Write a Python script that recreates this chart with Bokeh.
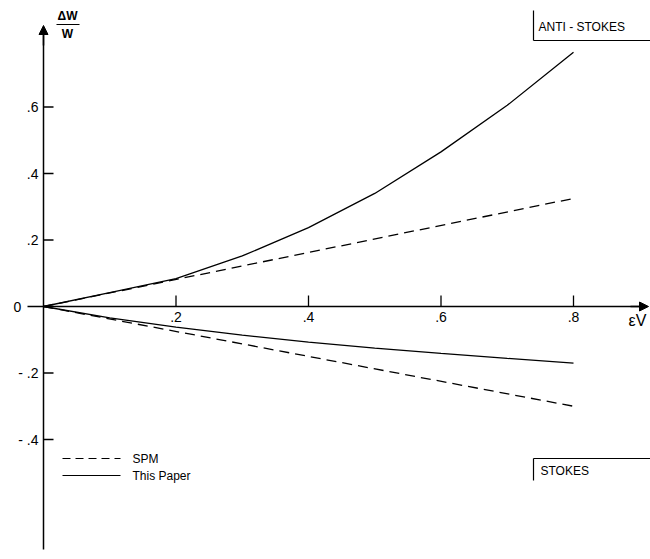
from bokeh.plotting import figure
from bokeh.models import Range1d, Arrow, NormalHead
from bokeh.core.properties import value
from bokeh.embed import file_html
from bokeh.resources import INLINE

# ---- data ----
x_tick_values = [0.2, 0.4, 0.6, 0.8]
x_tick_labels = [".2", ".4", ".6", ".8"]
y_tick_values = [0.6, 0.4, 0.2, -0.2, -0.4]
y_tick_labels = [".6", ".4", ".2", "- .2", "- .4"]

ev = [0.0, 0.1, 0.2, 0.3, 0.4, 0.5, 0.6, 0.7, 0.8]
anti_this_paper = [0.0, 0.042, 0.084, 0.152, 0.237, 0.340, 0.465, 0.605, 0.765]
stokes_this_paper = [0.0, -0.034, -0.062, -0.086, -0.107, -0.125, -0.141, -0.156, -0.170]

ev_spm = [0.0, 0.8]
anti_spm = [0.0, 0.325]
stokes_spm = [0.0, -0.300]

FONT = value("Liberation Sans")

W, H = 650, 559
# picture-pixel helpers for decorations
def X(px):
    return (px - 43) / 662.5

def Y(py):
    return (306 - py) / 332.5

p = figure(width=W, height=H, output_backend="svg", toolbar_location=None,
           x_range=Range1d(X(0), X(W)), y_range=Range1d(Y(H), Y(0)),
           x_axis_type=None, y_axis_type=None, min_border=0)
p.outline_line_color = None
p.grid.grid_line_color = None
p.background_fill_color = "white"

# axes
p.segment(x0=[X(27)], y0=[0], x1=[X(640)], y1=[0], line_color="black", line_width=1.3)
p.segment(x0=[0], y0=[Y(549)], x1=[0], y1=[Y(30)], line_color="black", line_width=1.5)
p.add_layout(Arrow(end=NormalHead(size=9, fill_color="black", line_color="black"),
                   x_start=X(630), y_start=0, x_end=X(648), y_end=0, line_width=1.3))
p.add_layout(Arrow(end=NormalHead(size=9, fill_color="black", line_color="black"),
                   x_start=0, y_start=Y(45), x_end=0, y_end=Y(25), line_width=1.5))

# ticks
p.segment(x0=x_tick_values, y0=[0] * 4, x1=x_tick_values, y1=[Y(295)] * 4,
          line_color="black", line_width=1.3)
p.segment(x0=[0] * 5, y0=y_tick_values, x1=[X(53)] * 5, y1=y_tick_values,
          line_color="black", line_width=1.3)

p.text(x=x_tick_values, y=[Y(316)] * 4, text=x_tick_labels, text_align="center",
       text_baseline="middle", text_font=FONT, text_font_size="14px", text_color="black")
p.text(x=[X(38)] * 5, y=y_tick_values, text=y_tick_labels, text_align="right",
       text_baseline="middle", text_font=FONT, text_font_size="14px", text_color="black")
p.text(x=[X(17)], y=[0], text=["0"], text_align="center", text_baseline="middle",
       text_font=FONT, text_font_size="14px", text_color="black")

# axis titles
p.text(x=[X(637)], y=[Y(320)], text=["εV"], text_align="center", text_baseline="middle",
       text_font=FONT, text_font_size="16px", text_color="black")
p.text(x=[X(67)], y=[Y(15)], text=["ΔW"], text_align="center", text_baseline="middle",
       text_font=FONT, text_font_size="12px", text_font_style="bold", text_color="black")
p.segment(x0=[X(56)], y0=[Y(24)], x1=[X(79)], y1=[Y(24)], line_color="black", line_width=1.2)
p.text(x=[X(67)], y=[Y(33)], text=["W"], text_align="center", text_baseline="middle",
       text_font=FONT, text_font_size="12px", text_font_style="bold", text_color="black")

# curves
p.line(ev, anti_this_paper, line_color="black", line_width=1.3)
p.line(ev, stokes_this_paper, line_color="black", line_width=1.3)
p.line(ev_spm, anti_spm, line_color="black", line_width=1.3, line_dash="10 6")
p.line(ev_spm, stokes_spm, line_color="black", line_width=1.3, line_dash="10 6")

# boxes
p.segment(x0=[X(533), X(533)], y0=[Y(10), Y(40)], x1=[X(533), X(650)], y1=[Y(40), Y(40)],
          line_color="black", line_width=1.2)
p.text(x=[X(538)], y=[Y(26)], text=["ANTI - STOKES"], text_align="left", text_baseline="middle",
       text_font=FONT, text_font_size="12px", text_color="black")
p.segment(x0=[X(533), X(533)], y0=[Y(458), Y(458)], x1=[X(533), X(650)], y1=[Y(480), Y(458)],
          line_color="black", line_width=1.2)
p.text(x=[X(540)], y=[Y(470)], text=["STOKES"], text_align="left", text_baseline="middle",
       text_font=FONT, text_font_size="12px", text_color="black")

# legend
p.segment(x0=[X(62)], y0=[Y(458)], x1=[X(120)], y1=[Y(458)], line_color="black",
          line_width=1.2, line_dash="8 5")
p.segment(x0=[X(62)], y0=[Y(475)], x1=[X(120)], y1=[Y(475)], line_color="black",
          line_width=1.2)
p.text(x=[X(132), X(132)], y=[Y(458), Y(475)], text=["SPM", "This  Paper"], text_align="left",
       text_baseline="middle", text_font=FONT, text_font_size="12px", text_color="black")

open("out.html", "w").write(file_html(p, INLINE))
